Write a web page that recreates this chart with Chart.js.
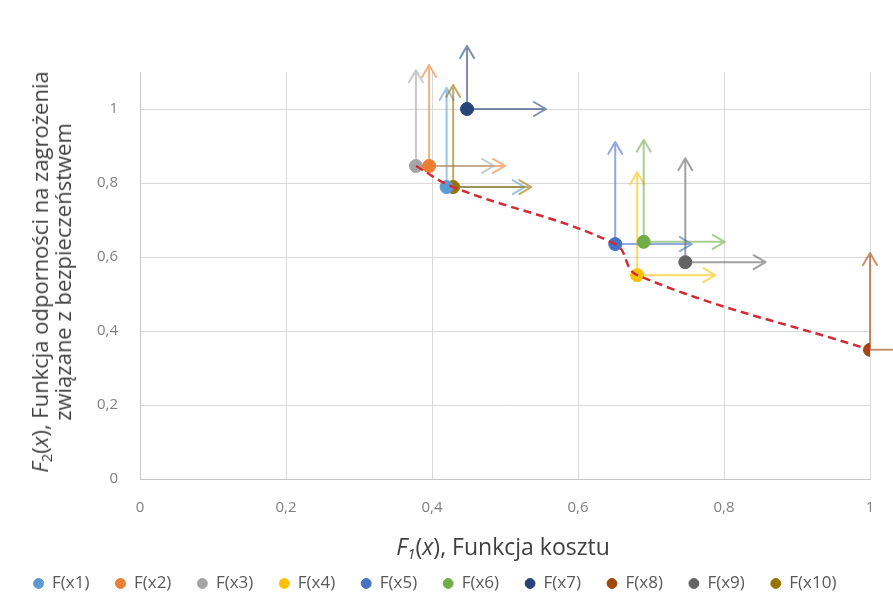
<!DOCTYPE html>
<html>
<head>
<meta charset="utf-8">
<title>F1 / F2</title>
<script src="https://cdn.jsdelivr.net/npm/chart.js@4.4.1/dist/chart.umd.min.js"></script>
<style>
  body { margin: 0; background: #fff; }
  #wrap { position: relative; width: 893px; height: 602px; font-family: 'Open Sans', sans-serif; }
  .axis-title { position: absolute; color: #404040; font-size: 22px; white-space: nowrap; transform: translate(-50%, -50%); }
  #yTitle { left: 51px; top: 272px; transform: translate(-50%, -50%) rotate(-90deg); text-align: center; line-height: 23px; }
  #xTitle { left: 503px; top: 546px; font-size: 23px; }
  .axis-title sub { font-size: 15px; vertical-align: -4px; line-height: 0; }
</style>
</head>
<body>
<div id="wrap">
  <canvas id="chart" width="893" height="602"></canvas>
  <div class="axis-title" id="yTitle"><i>F</i><sub>2</sub>(<i>x</i>), Funkcja odporności na zagrożenia<br>związane z bezpieczeństwem</div>
  <div class="axis-title" id="xTitle"><i>F<sub>1</sub></i>(<i>x</i>), Funkcja kosztu</div>
</div>
<script>
// Solutions F(x1)..F(x10): cost F1 on x, safety resilience F2 on y.
const seriesLabels = ['F(x1)', 'F(x2)', 'F(x3)', 'F(x4)', 'F(x5)', 'F(x6)', 'F(x7)', 'F(x8)', 'F(x9)', 'F(x10)'];
const seriesColors = ['#5B9BD5', '#ED7D31', '#A5A5A5', '#FFC000', '#4472C4', '#70AD47', '#264478', '#9E480E', '#636363', '#997300'];
const costValues = [0.42, 0.396, 0.378, 0.681, 0.651, 0.69, 0.448, 1.0, 0.747, 0.429];
const safetyValues = [0.789, 0.846, 0.846, 0.551, 0.635, 0.641, 1.0, 0.349, 0.586, 0.789];

// error bar lengths (plus direction only, arrow end caps)
const errorUp = [0.268, 0.273, 0.259, 0.278, 0.276, 0.276, 0.17, 0.262, 0.281, 0.276];
const errorRight = [0.107, 0.104, 0.107, 0.107, 0.105, 0.111, 0.108, 0.107, 0.11, 0.107];

// Pareto front (red dashed line)
const frontCost = [0.378, 0.429, 0.651, 0.681, 1.0];
const frontSafety = [0.846, 0.789, 0.635, 0.551, 0.349];

const xTicks = [0, 0.2, 0.4, 0.6, 0.8, 1];
const xTickLabels = ['0', '0,2', '0,4', '0,6', '0,8', '1'];
const yTicks = [0, 0.2, 0.4, 0.6, 0.8, 1];
const yTickLabels = ['0', '0,2', '0,4', '0,6', '0,8', '1'];

function withAlpha(hex, a) {
  const n = parseInt(hex.slice(1), 16);
  return `rgba(${(n >> 16) & 255}, ${(n >> 8) & 255}, ${n & 255}, ${a})`;
}

// Draws the error bars with open arrow heads, under the markers.
const errorBarPlugin = {
  id: 'errorBars',
  beforeDatasetsDraw(chart) {
    const { ctx, scales: { x, y } } = chart;
    ctx.save();
    ctx.lineWidth = 2;
    ctx.lineCap = 'round';
    ctx.lineJoin = 'round';
    seriesLabels.forEach((_, i) => {
      const px = x.getPixelForValue(costValues[i]);
      const py = y.getPixelForValue(safetyValues[i]);
      const topY = y.getPixelForValue(safetyValues[i] + errorUp[i]);
      const rightX = x.getPixelForValue(costValues[i] + errorRight[i]);
      ctx.strokeStyle = withAlpha(seriesColors[i], 0.6);
      ctx.beginPath();
      ctx.moveTo(px, py);
      ctx.lineTo(px, topY);
      ctx.moveTo(px - 7, topY + 12);
      ctx.lineTo(px, topY);
      ctx.lineTo(px + 7, topY + 12);
      ctx.moveTo(px, py);
      ctx.lineTo(rightX, py);
      ctx.moveTo(rightX - 12, py - 7);
      ctx.lineTo(rightX, py);
      ctx.lineTo(rightX - 12, py + 7);
      ctx.stroke();
    });
    ctx.restore();
  }
};

const datasets = [
  {
    label: 'front',
    type: 'line',
    data: frontCost.map((c, i) => ({ x: c, y: frontSafety[i] })),
    borderColor: '#D42A35',
    borderWidth: 2.5,
    borderDash: [8, 5],
    pointRadius: 0,
    tension: 0.4,
    fill: false,
    order: -1,
  },
  ...seriesLabels.map((label, i) => ({
    label,
    data: [{ x: costValues[i], y: safetyValues[i] }],
    backgroundColor: seriesColors[i],
    borderColor: seriesColors[i],
    borderWidth: 1,
    pointRadius: 6.5,
    pointHoverRadius: 6.5,
  })),
];

const tickFont = { family: "'Open Sans', sans-serif", size: 15 };

new Chart(document.getElementById('chart').getContext('2d'), {
  type: 'scatter',
  data: { datasets },
  plugins: [errorBarPlugin],
  options: {
    responsive: false,
    animation: false,
    layout: { padding: { top: 72, right: 23, left: 0, bottom: 0 } },
    plugins: {
      tooltip: { enabled: false },
      legend: {
        position: 'bottom',
        labels: {
          filter: (item) => item.text !== 'front',
          usePointStyle: true,
          pointStyle: 'circle',
          boxWidth: 10,
          boxHeight: 7,
          padding: 26,
          color: '#595959',
          font: { family: "'Open Sans', sans-serif", size: 17 },
        },
      },
    },
    scales: {
      x: {
        type: 'linear',
        min: 0,
        max: 1,
        afterBuildTicks: (scale) => { scale.ticks = xTicks.map(v => ({ value: v })); },
        afterFit: (scale) => {
          scale.height = 70;
          scale.paddingRight = 0;
        },
        ticks: {
          padding: 20,
          color: '#7f7f7f',
          font: tickFont,
          callback: (v) => xTickLabels[xTicks.indexOf(v)],
        },
        grid: { color: '#d9d9d9', drawTicks: false },
        border: { color: '#c6c6c6' },
      },
      y: {
        type: 'linear',
        min: 0,
        max: 1.1,
        afterBuildTicks: (scale) => { scale.ticks = yTicks.map(v => ({ value: v })); },
        afterFit: (scale) => { scale.width = 140; },
        ticks: {
          padding: 22,
          color: '#7f7f7f',
          font: tickFont,
          callback: (v) => yTickLabels[yTicks.indexOf(v)],
        },
        grid: { color: '#d9d9d9', drawTicks: false },
        border: { color: '#c6c6c6' },
      },
    },
  },
});
</script>
</body>
</html>
